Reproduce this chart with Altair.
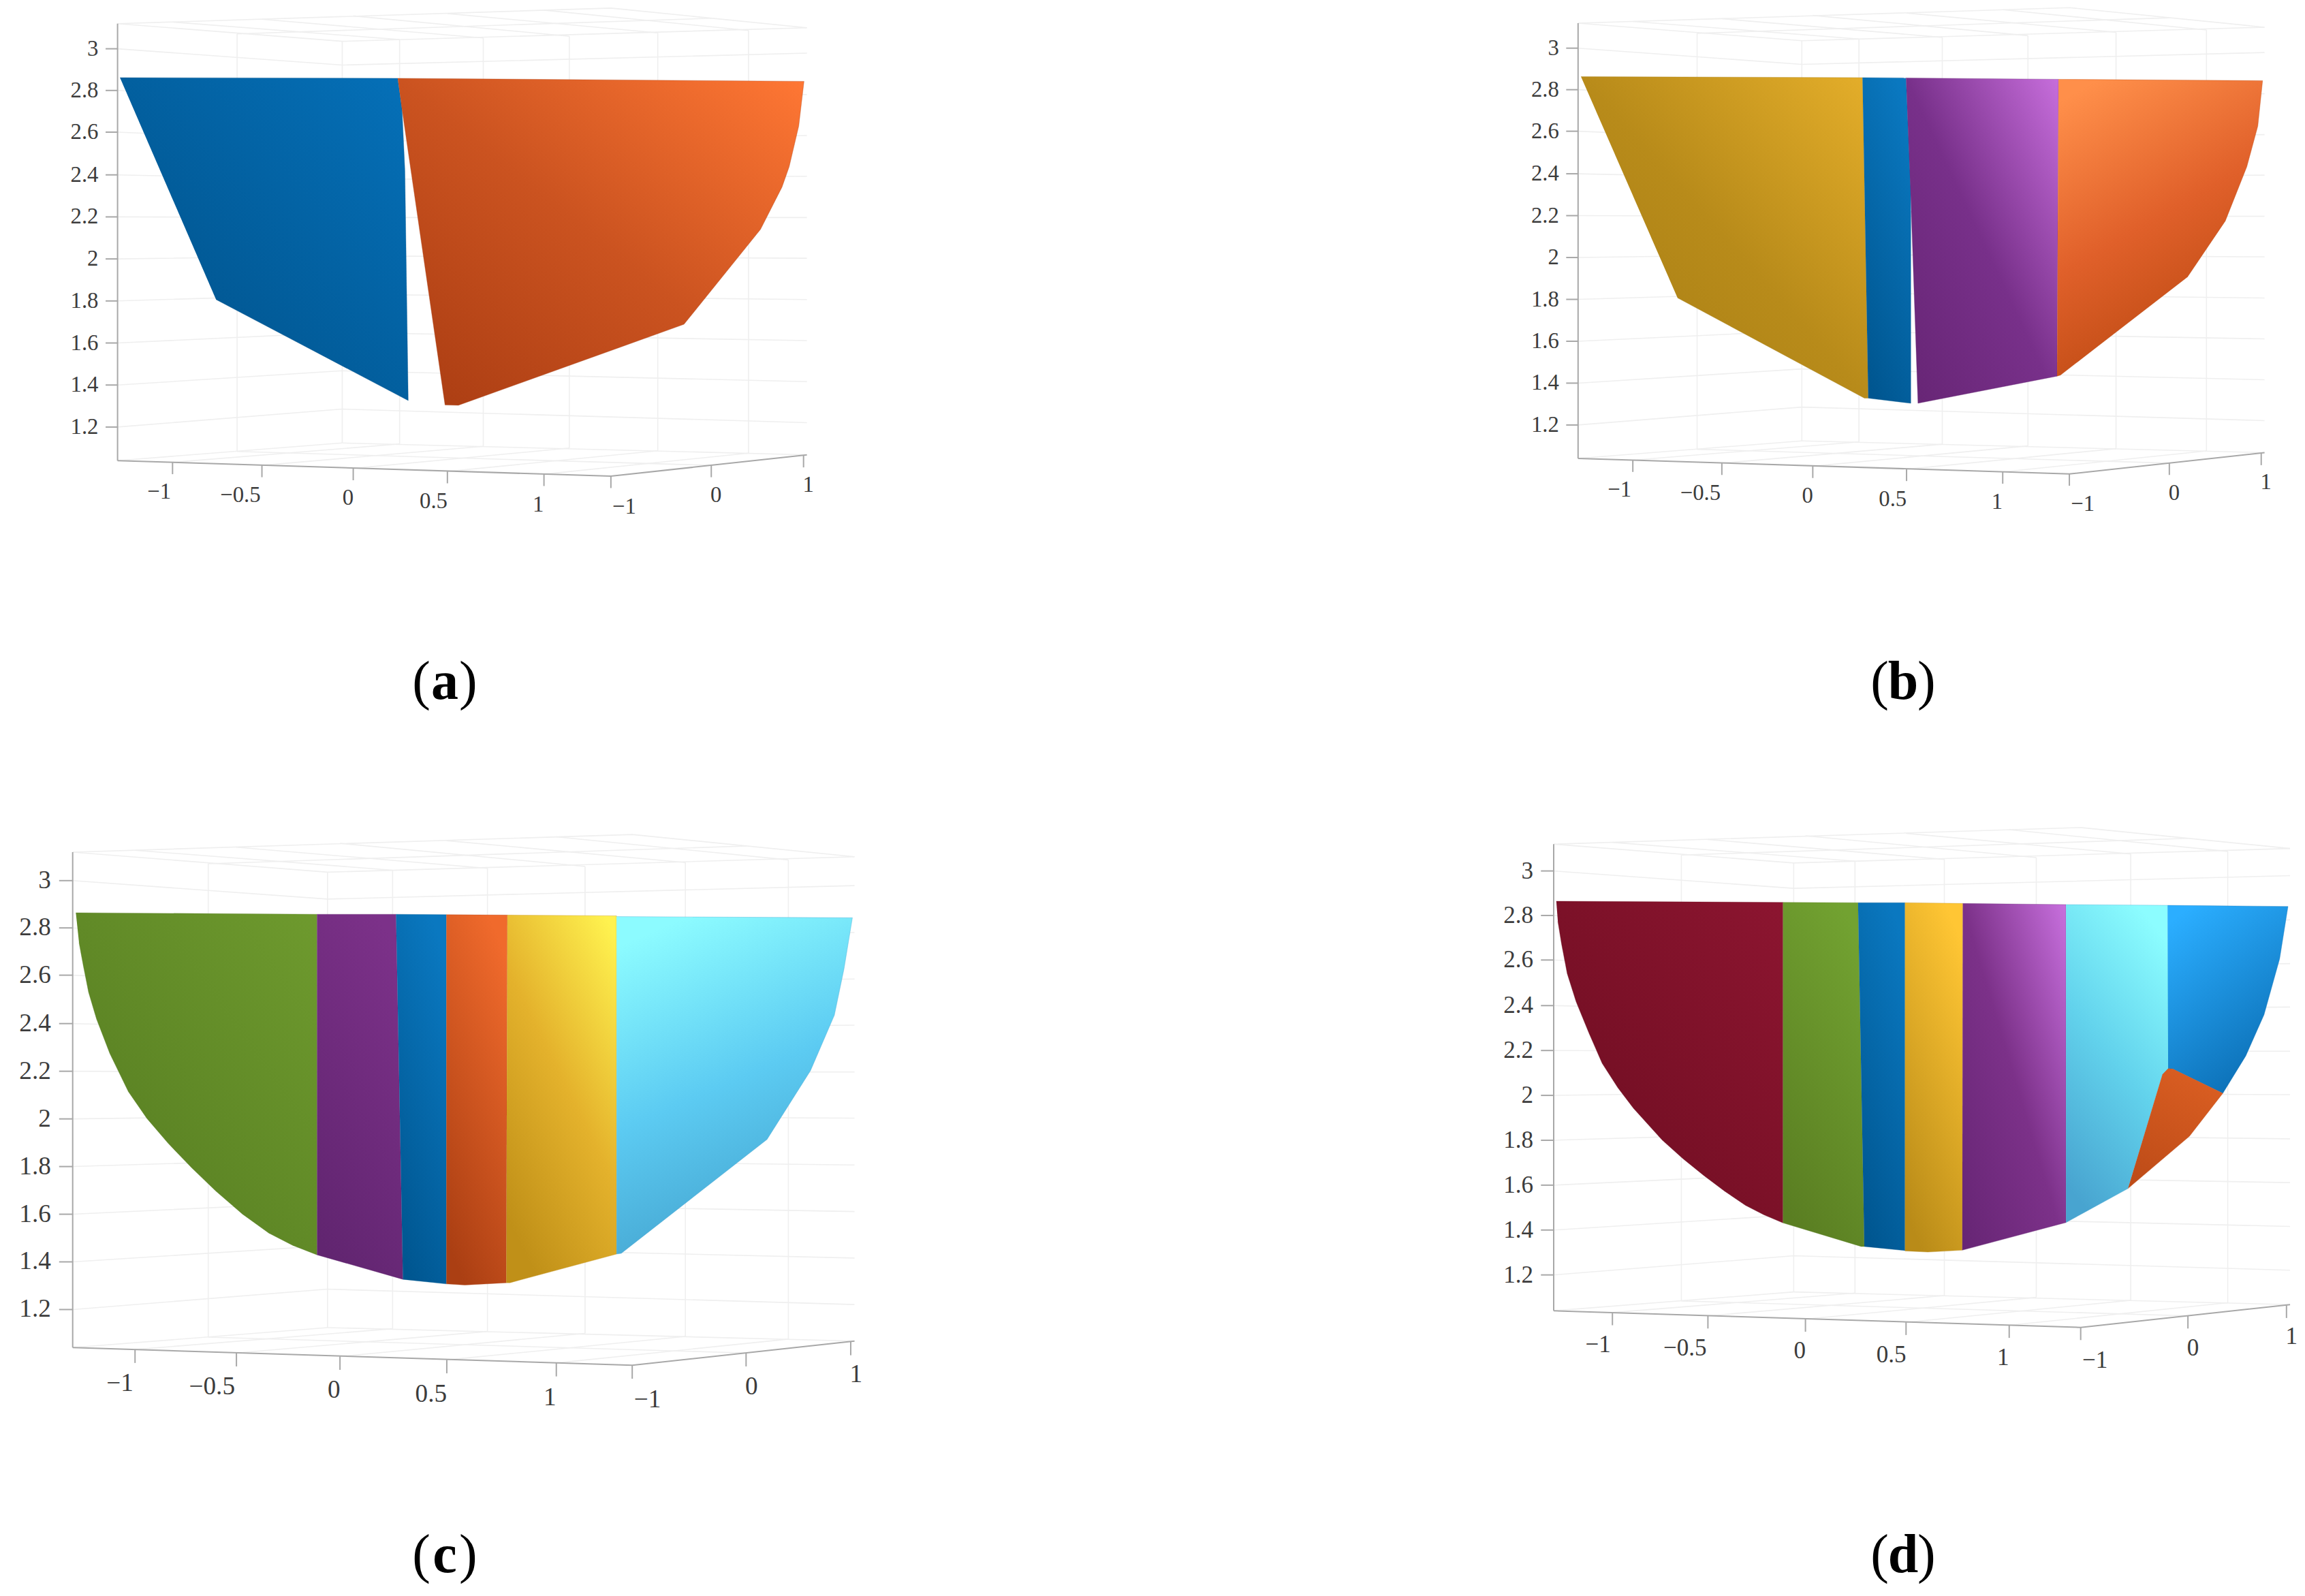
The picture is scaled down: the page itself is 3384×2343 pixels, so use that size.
import altair as alt
import pandas as pd

# frame of the 3D box in crop units; the other panels reuse it
Z_LABELS = ["3", "2.8", "2.6", "2.4", "2.2", "2", "1.8", "1.6", "1.4", "1.2"]
Z_LEFT = [142, 265, 388, 514, 638, 762, 886, 1010, 1134, 1258]
Z_BACK = [190, 303, 416, 528, 640, 753, 866, 979, 1092, 1205]
Z_RIGHT = [155, 277, 398, 518, 640, 760, 882, 1003, 1124, 1245]

X_LABELS = ["\u22121", "\u22120.5", "0", "0.5", "1"]
X_TICK_X = [190, 377, 568, 765, 967]
X_TICK_Y = [1362, 1371, 1380, 1389, 1397]
X_LABEL_X = [162, 332, 557, 736, 955]
X_LABEL_Y = [1450, 1460, 1468, 1478, 1487]
Y_LABELS = ["\u22121", "0", "1"]
Y_TICK_X = [1107, 1317, 1510]
Y_TICK_Y = [1403, 1371, 1342]
Y_LABEL_X = [1135, 1327, 1520]
Y_LABEL_Y = [1493, 1460, 1428]

BACK_X = [325, 545, 665, 840, 1020, 1205, 1395]
BACK_TOP = [98, 120, 115, 110, 105, 95, 88]
BACK_BOTTOM = [1330, 1305, 1308, 1315, 1320, 1328, 1335]
CEIL_X = [190, 377, 568, 765, 967]
CEIL_Y = [63, 55, 45, 38, 28]

# surfaces
a_blue = [(80, 227), (661, 229), (670, 320), (676, 500), (683, 1180), (281, 882)]
a_orange = [(661, 229), (1511, 238), (1500, 370), (1480, 490), (1465, 550), (1420, 675), (1260, 955),
            (788, 1194), (760, 1193), (668, 300)]

b_gold = [(87, 224), (676, 227), (688, 1173), (680, 1173), (289, 877)]
b_blue = [(676, 227), (767, 228), (777, 560), (777, 1188), (688, 1173)]
b_purple = [(767, 228), (1086, 232), (1083, 1108), (792, 1188), (778, 620)]
b_orange = [(1086, 232), (1513, 236), (1503, 370), (1480, 490), (1435, 650), (1356, 815), (1090, 1105), (1083, 1108)]

c_green = [(66, 212), (521, 216), (521, 1107), (475, 1082), (430, 1050), (380, 1000), (330, 940), (285, 880),
           (240, 815), (200, 750), (165, 680), (130, 580), (105, 490), (90, 420), (80, 350), (72, 290)]
c_purple = [(521, 216), (670, 216), (683, 1171), (521, 1107)]
c_blue = [(670, 216), (765, 217), (765, 1183), (683, 1171)]
c_orange = [(765, 217), (880, 218), (878, 1180), (800, 1186), (765, 1183)]
c_gold = [(880, 218), (1086, 220), (1086, 1105), (885, 1180), (878, 1180)]
c_cyan = [(1086, 222), (1531, 225), (1515, 360), (1497, 480), (1452, 625), (1370, 805), (1095, 1103), (1086, 1105)]

d_red = [(137, 186), (572, 189), (572, 1047), (535, 1025), (500, 1000), (460, 962), (420, 920), (380, 875),
         (340, 825), (285, 740), (255, 685), (225, 620), (200, 540), (175, 455), (158, 380), (147, 300), (140, 240)]
d_green = [(572, 189), (716, 190), (728, 1110), (722, 1110), (572, 1047)]
d_blue = [(716, 190), (806, 190), (806, 1121), (728, 1110)]
d_gold = [(806, 190), (917, 192), (916, 1120), (850, 1125), (806, 1122)]
d_purple = [(917, 192), (1115, 195), (1115, 1046), (916, 1120)]
d_cyan = [(1115, 195), (1310, 197), (1312, 635), (1300, 650), (1234, 955), (1115, 1046)]
d_sky = [(1310, 197), (1541, 200), (1525, 340), (1495, 490), (1460, 600), (1416, 700), (1320, 635), (1311, 634)]
d_orange = [(1300, 650), (1311, 634), (1320, 635), (1416, 700), (1352, 815), (1234, 955)]

DIAG = (0, 1, 1, 0)
UP = (0.3, 1, 0.7, 0)

PANELS = {
    "a": {
        "crop": (120, 0, 1.425, 2.01), "origin": (172.6, 70.6), "scale": (0.7018, 0.4976), "caption": (653, 1025),
        "surfaces": [
            (a_blue, DIAG, ["#004F86", "#0570B8"]),
            (a_orange, DIAG, ["#A93C12", "#CB5320", "#FF7734"]),
        ],
    },
    "b": {
        "crop": (2260, 0, 1.425, 2.01), "origin": (2316.8, 69.7), "scale": (0.6989, 0.4957), "caption": (2794, 1025),
        "surfaces": [
            (b_gold, DIAG, ["#A67D14", "#B88B1A", "#E4AE2A"]),
            (b_blue, UP, ["#005690", "#0A78C0"]),
            (b_purple, DIAG, ["#662574", "#78308A", "#C76EDC"]),
            (b_orange, (0.6, 1, 0.2, 0), ["#B8470F", "#E0602A", "#FF8F4A"]),
        ],
    },
    "c": {
        "crop": (60, 1220, 1.285, 1.782), "origin": (106.7, 1291.8), "scale": (0.796, 0.5642), "caption": (653, 2307),
        "surfaces": [
            (c_green, DIAG, ["#547A20", "#6E9A2E"]),
            (c_purple, UP, ["#612570", "#7C3189"]),
            (c_blue, UP, ["#005690", "#0A78C0"]),
            (c_orange, UP, ["#AB3F13", "#F06A2C"]),
            (c_gold, (0.3, 1, 0.9, 0), ["#C09018", "#E4B22C", "#FFF24F"]),
            (c_cyan, (0.6, 1, 0.3, 0), ["#42A0CC", "#5CCBF2", "#8CFBFF"]),
        ],
    },
    "d": {
        "crop": (2180, 1220, 1.307, 1.823), "origin": (2281, 1277.6), "scale": (0.7497, 0.5314),
        "caption": (2794, 2307),
        "surfaces": [
            (d_red, DIAG, ["#6C0D20", "#8C1530"]),
            (d_green, UP, ["#5A7E22", "#72A231"]),
            (d_blue, UP, ["#005690", "#0A78C0"]),
            (d_gold, UP, ["#B98B18", "#FFC634"]),
            (d_purple, DIAG, ["#662574", "#7C3189", "#C870DE"]),
            (d_cyan, UP, ["#48A4D0", "#62D2EC", "#8CFDFF"]),
            (d_sky, (0.7, 1, 0.2, 0), ["#0A6CB2", "#2BAEFF"]),
            (d_orange, UP, ["#BE4C18", "#DA5E22"]),
        ],
    },
}

WIDTH = 3368
HEIGHT = 2327
X_SCALE = alt.Scale(domain=[8, 3376], nice=False, zero=False)
Y_SCALE = alt.Scale(domain=[2335, 8], nice=False, zero=False)
X = alt.X("x:Q", scale=X_SCALE, axis=None)
Y = alt.Y("y:Q", scale=Y_SCALE, axis=None)
FONT = "Liberation Serif"


def frame_rows(panel):
    (ox, oy), (kx, ky) = panel["origin"], panel["scale"]

    def place(tx, ty):
        return ox + (tx - 75) * kx, oy + (ty - 142) * ky

    grid, axes, labels = [], [], []

    def add(rows, name, points):
        for i, (tx, ty) in enumerate(points):
            px, py = place(tx, ty)
            rows.append({"seg": name, "i": i, "x": px, "y": py})

    for n, label in enumerate(Z_LABELS):
        add(grid, f"z{n}", [(75, Z_LEFT[n]), (545, Z_BACK[n]), (1517, Z_RIGHT[n])])
        add(axes, f"zt{n}", [(50, Z_LEFT[n]), (75, Z_LEFT[n])])
        px, py = place(35, Z_LEFT[n])
        labels.append({"x": px, "y": py, "text": label, "align": "right"})
    for n in range(len(BACK_X)):
        add(grid, f"v{n}", [(BACK_X[n], BACK_TOP[n]), (BACK_X[n], BACK_BOTTOM[n])])
    for n in range(len(CEIL_X)):
        add(grid, f"c{n}", [(CEIL_X[n], CEIL_Y[n]), (BACK_X[n + 2], BACK_TOP[n + 2])])
        add(grid, f"f{n}", [(X_TICK_X[n], X_TICK_Y[n]), (BACK_X[n + 2], BACK_BOTTOM[n + 2])])
    add(grid, "e1", [(75, 68), (545, 120), (1517, 80)])
    add(grid, "e2", [(75, 68), (1107, 22), (1517, 80)])
    add(grid, "e3", [(325, 98), (1317, 52)])
    add(grid, "e4", [(545, 1305), (1517, 1340)])
    add(grid, "e5", [(545, 1305), (75, 1357)])
    add(grid, "e6", [(325, 1330), (1317, 1371)])
    add(axes, "zaxis", [(75, 68), (75, 1357)])
    add(axes, "xaxis", [(75, 1357), (1107, 1403), (1517, 1340)])
    for n, label in enumerate(X_LABELS):
        add(axes, f"xt{n}", [(X_TICK_X[n], X_TICK_Y[n]), (X_TICK_X[n], X_TICK_Y[n] + 35)])
        px, py = place(X_LABEL_X[n], X_LABEL_Y[n])
        labels.append({"x": px, "y": py, "text": label, "align": "center"})
    for n, label in enumerate(Y_LABELS):
        add(axes, f"yt{n}", [(Y_TICK_X[n], Y_TICK_Y[n]), (Y_TICK_X[n], Y_TICK_Y[n] + 35)])
        px, py = place(Y_LABEL_X[n], Y_LABEL_Y[n])
        labels.append({"x": px, "y": py, "text": label, "align": "center"})
    return pd.DataFrame(grid), pd.DataFrame(axes), pd.DataFrame(labels)


def surface_layer(points, crop, direction, colors):
    x0, y0, sx, sy = crop
    table = pd.DataFrame(
        {"i": range(len(points)), "x": [x0 + p[0] / sx for p in points], "y": [y0 + p[1] / sy for p in points]}
    )
    stops = [{"offset": n / (len(colors) - 1), "color": c} for n, c in enumerate(colors)]
    fill = {"gradient": "linear", "x1": direction[0], "y1": direction[1], "x2": direction[2], "y2": direction[3],
            "stops": stops}
    return alt.Chart(table).mark_line(fill=fill, stroke=colors[0], strokeWidth=0.6, strokeOpacity=0.6).encode(
        x=X, y=Y, order=alt.Order("i:Q")
    )


layers = []
for letter, panel in PANELS.items():
    grid, axes, labels = frame_rows(panel)
    ky = panel["scale"][1]
    layers.append(alt.Chart(grid).mark_line(color="#efefef", strokeWidth=1.6).encode(
        x=X, y=Y, detail="seg:N", order=alt.Order("i:Q")))
    layers.append(alt.Chart(axes).mark_line(color="#a8a8a8", strokeWidth=2).encode(
        x=X, y=Y, detail="seg:N", order=alt.Order("i:Q")))
    for align in ["right", "center"]:
        layers.append(alt.Chart(labels[labels["align"] == align]).mark_text(
            font=FONT, fontSize=66 * ky, color="#3c3c3c", align=align, baseline="middle"
        ).encode(x=X, y=Y, text="text:N"))
    for points, direction, colors in panel["surfaces"]:
        layers.append(surface_layer(points, panel["crop"], direction, colors))

    cx, cy = panel["caption"]
    parts = pd.DataFrame({"x": [cx - 21, cx + 21], "y": [cy, cy], "text": ["(", ")"]})
    layers.append(alt.Chart(parts[:1]).mark_text(font=FONT, fontSize=80, color="black", align="right",
                                                 baseline="alphabetic").encode(x=X, y=Y, text="text:N"))
    layers.append(alt.Chart(parts[1:]).mark_text(font=FONT, fontSize=80, color="black", align="left",
                                                 baseline="alphabetic").encode(x=X, y=Y, text="text:N"))
    letter_row = pd.DataFrame({"x": [cx], "y": [cy], "text": [letter]})
    layers.append(alt.Chart(letter_row).mark_text(font=FONT, fontSize=80, fontWeight="bold", color="black",
                                                  align="center", baseline="alphabetic").encode(
        x=X, y=Y, text="text:N"))

chart = alt.layer(*layers).properties(width=WIDTH, height=HEIGHT, padding=0).configure_view(strokeWidth=0)
chart.save("out.html", embed_options={"renderer": "svg", "actions": False})
